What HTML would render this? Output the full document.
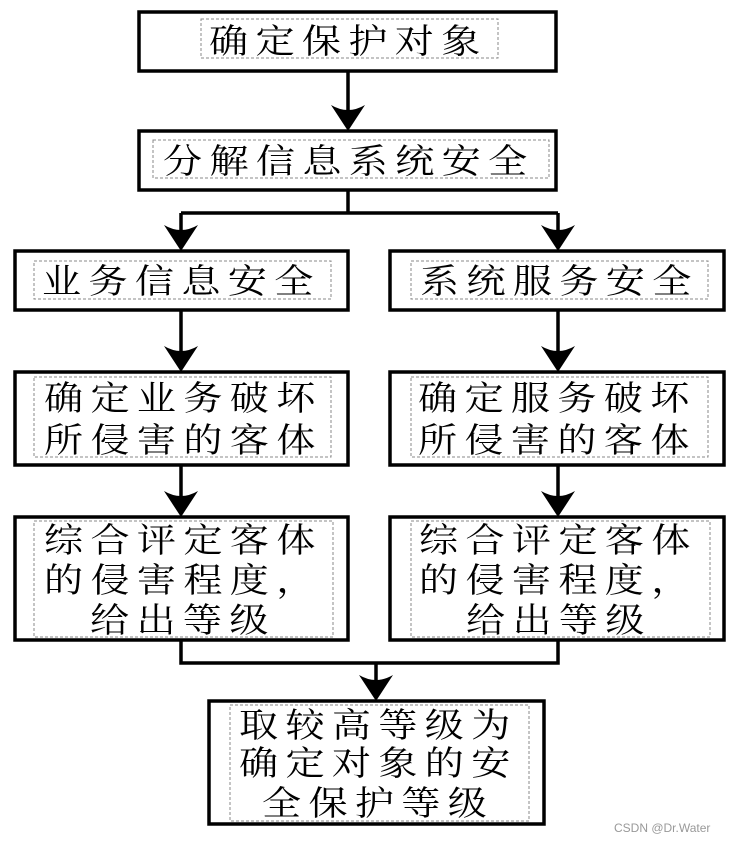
<!DOCTYPE html>
<html><head><meta charset="utf-8"><style>
html,body{margin:0;padding:0;background:#fff;}
svg{display:block;}
text{font-family:"Liberation Serif","Noto Serif CJK SC","Noto Sans CJK SC",serif;font-size:34px;fill:#000;letter-spacing:6.4px;}
.w{font-family:"Liberation Sans",sans-serif;font-size:12px;fill:#999;letter-spacing:0;}
</style></head><body>
<svg width="731" height="842" viewBox="0 0 731 842" xmlns="http://www.w3.org/2000/svg">
<defs>
<path id="ah" d="M0,0 L-17,-26 Q0,-16 17,-26 Z" fill="#000"/>
</defs>
<g fill="none" stroke="#000" stroke-width="3.5">
<rect x="139" y="12" width="417" height="59"/>
<rect x="139" y="131" width="417" height="59"/>
<rect x="15" y="251" width="333" height="59"/>
<rect x="390" y="251" width="334" height="59"/>
<rect x="15" y="372" width="333" height="93"/>
<rect x="390" y="372" width="334" height="93"/>
<rect x="15" y="517" width="333" height="123"/>
<rect x="390" y="517" width="334" height="123"/>
<rect x="209" y="701" width="335" height="123"/>
<path d="M348,71 V128 M348,190 V213 M181,213 H558 M181,213 V248 M558,213 V248 M181,310 V369 M558,310 V369 M181,465 V514 M558,465 V514 M181,640 V663 H558 V640 M376,663 V698"/>
</g>
<g fill="none" stroke="#888" stroke-width="1" stroke-dasharray="3,2">
<rect x="201" y="19" width="297" height="39"/>
<rect x="153" y="140" width="396" height="38"/>
<rect x="34" y="261" width="297" height="38"/>
<rect x="411" y="261" width="297" height="38"/>
<rect x="34" y="377" width="297" height="80"/>
<rect x="411" y="377" width="297" height="80"/>
<rect x="34" y="521" width="299" height="116"/>
<rect x="411" y="521" width="299" height="116"/>
<rect x="230" y="705" width="299" height="116"/>
</g>
<use href="#ah" x="348" y="131"/>
<use href="#ah" x="181" y="251"/>
<use href="#ah" x="558" y="251"/>
<use href="#ah" x="181" y="372"/>
<use href="#ah" x="558" y="372"/>
<use href="#ah" x="181" y="517"/>
<use href="#ah" x="558" y="517"/>
<use href="#ah" x="376" y="701"/>
<text transform="translate(209,53) scale(1.15,1)">确定保护对象</text>
<text transform="translate(163,173) scale(1.15,1)">分解信息系统安全</text>
<text transform="translate(42,293) scale(1.15,1)">业务信息安全</text>
<text transform="translate(420,293) scale(1.15,1)">系统服务安全</text>
<text transform="translate(44,410) scale(1.15,1)">确定业务破坏</text>
<text transform="translate(44,452) scale(1.15,1)">所侵害的客体</text>
<text transform="translate(418,410) scale(1.15,1)">确定服务破坏</text>
<text transform="translate(418,452) scale(1.15,1)">所侵害的客体</text>
<text transform="translate(44,552) scale(1.15,1)">综合评定客体</text>
<text transform="translate(44,592) scale(1.15,1)">的侵害程度，</text>
<text transform="translate(90,632) scale(1.15,1)">给出等级</text>
<text transform="translate(419,552) scale(1.15,1)">综合评定客体</text>
<text transform="translate(419,592) scale(1.15,1)">的侵害程度，</text>
<text transform="translate(466,632) scale(1.15,1)">给出等级</text>
<text transform="translate(239,737) scale(1.15,1)">取较高等级为</text>
<text transform="translate(239,775) scale(1.15,1)">确定对象的安</text>
<text transform="translate(262,815) scale(1.15,1)">全保护等级</text>
<text class="w" x="614" y="832">CSDN @Dr.Water</text>
</svg>
</body></html>
